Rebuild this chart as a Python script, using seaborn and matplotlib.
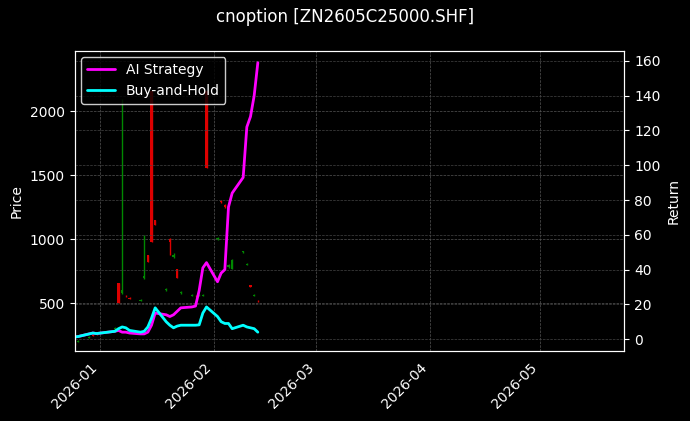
import matplotlib
matplotlib.use("Agg")
import matplotlib.pyplot as plt
import matplotlib.dates as mdates
import seaborn as sns
import pandas as pd
import numpy as np

dates = pd.to_datetime([
 "2025-12-25","2025-12-26","2025-12-29","2025-12-30","2025-12-31",
 "2026-01-05","2026-01-06","2026-01-07","2026-01-08","2026-01-09",
 "2026-01-12","2026-01-13","2026-01-14","2026-01-15","2026-01-16",
 "2026-01-19","2026-01-20","2026-01-21","2026-01-22","2026-01-23",
 "2026-01-26","2026-01-27","2026-01-28","2026-01-29","2026-01-30",
 "2026-02-02","2026-02-03","2026-02-04","2026-02-05","2026-02-06",
 "2026-02-09","2026-02-10","2026-02-11","2026-02-12","2026-02-13"])
bh_return = [1.2,1.5,3,3.5,3.2,4.5,6,7,6.5,5,4,4.5,7,12,18,10,8,6.5,7.5,8,
             8,8,8.2,15,18.5,13,10,9,9,6,8,7,6.5,6,4]
ai_return = [1.2,1.5,3,3.5,3.2,4.5,5,4,4,3.5,3,3,4,8,15,14,13,14,16,18,
             18.5,19,28,41,44,33,38,40,76,84,93,122,128,140,159]
open_ = [185,200,230,250,260,300,660,580,560,540,520,700,880,2160,1150,600,1000,860,770,580,
         560,560,560,560,2160,1000,1300,1270,780,770,900,800,640,560,520]
close = [175,205,235,245,255,305,500,600,555,535,525,710,820,980,1110,610,980,880,700,590,
         565,555,565,565,1560,1010,1290,1250,800,840,905,810,630,565,515]
high  = [190,210,240,255,265,310,660,2100,565,545,530,1030,880,2160,1150,615,1010,890,770,595,
         570,565,570,570,2160,1015,1305,1275,805,845,910,815,645,570,525]
low   = [170,195,228,243,252,298,500,570,550,530,515,690,820,980,1110,595,880,855,700,575,
         555,550,555,555,1560,995,1285,1245,775,765,895,795,625,555,510]

sns.set_style("dark")
plt.rcParams['font.family'] = ['DejaVu Sans']
fig, ax = plt.subplots(figsize=(6.9, 4.21), dpi=100)
fig.patch.set_facecolor("black")
ax.set_facecolor("black")

o = np.array(open_); c = np.array(close)
up = c >= o
cols = ["#008800" if u else "#dd0000" for u in up]
ax.vlines(dates, low, high, colors=cols, linewidth=1)
ax.bar(dates, np.maximum(np.abs(c - o), 3), bottom=np.minimum(o, c), width=0.6,
       color=cols, linewidth=0, edgecolor="none")
ax.set_ylim(125, 2477)
ax.set_xlim(pd.Timestamp("2025-12-25"), pd.Timestamp("2026-05-24"))
ax.set_ylabel("Price", color="white")
ax.grid(True, color="#555555", linestyle="--", linewidth=0.5)

ax2 = ax.twinx()
df = pd.DataFrame({"date": dates, "AI Strategy": ai_return, "Buy-and-Hold": bh_return})
sns.lineplot(data=df, x="date", y="AI Strategy", ax=ax2, color="#ff00ff", linewidth=2, label="AI Strategy")
sns.lineplot(data=df, x="date", y="Buy-and-Hold", ax=ax2, color="#00ffff", linewidth=2, label="Buy-and-Hold")
ax2.set_ylim(-6.9, 166)
ax2.set_ylabel("Return", color="white")
ax2.set_xlabel("")
ax.set_xlabel("")
ax2.grid(True, color="#444444", linestyle="--", linewidth=0.5)

for a in (ax, ax2):
    a.tick_params(colors="white")
    for s in a.spines.values():
        s.set_color("white")
ax.xaxis.set_major_locator(mdates.MonthLocator())
ax.xaxis.set_major_formatter(mdates.DateFormatter("%Y-%m"))
for lbl in ax.get_xticklabels():
    lbl.set_rotation(45); lbl.set_ha("right")

leg = ax2.legend(loc="upper left", facecolor="black", edgecolor="white", labelcolor="white")
fig.suptitle("cnoption [ZN2605C25000.SHF]", color="white", fontsize=12)
fig.subplots_adjust(left=0.108, right=0.905, top=0.88, bottom=0.166)
fig.savefig("out.png", dpi=100, facecolor="black")
